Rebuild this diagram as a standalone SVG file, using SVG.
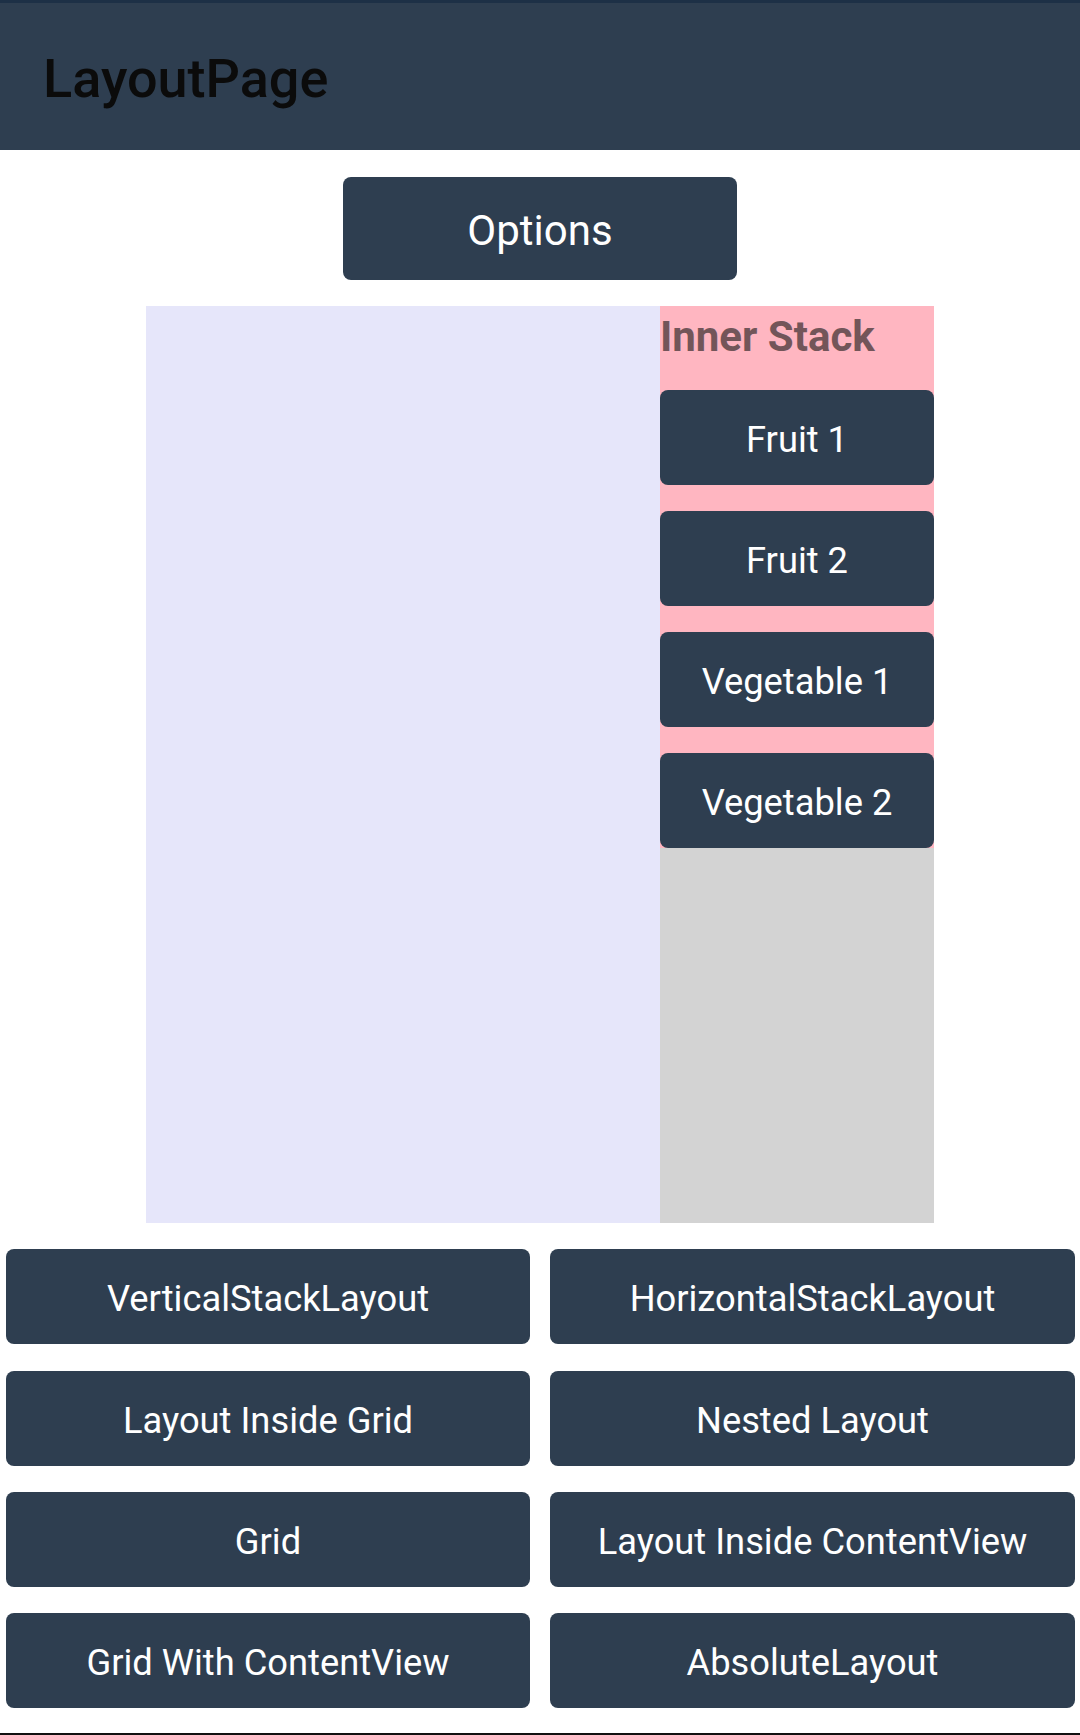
<svg xmlns="http://www.w3.org/2000/svg" width="1080" height="1735" viewBox="0 0 1080 1735">
<style>
.btn{fill:#2e3e50}
.bt{font-family:Roboto,"Liberation Sans",sans-serif;font-size:36.3px;fill:#ffffff;text-anchor:middle}
</style>
<rect x="0" y="0" width="1080" height="1735" fill="#ffffff"/>
<g id="header">
<rect x="0" y="0" width="1080" height="150" fill="#2e3e50"/>
<rect x="0" y="0" width="1080" height="3" fill="#1d3046"/>
<text x="43" y="97" font-family="Roboto,'Liberation Sans',sans-serif" font-size="54" font-weight="500" fill="#0b0b0b">LayoutPage</text>
</g>
<g id="options">
<rect class="btn" x="343" y="177" width="394" height="103" rx="8"/>
<text class="bt" x="540" y="245" style="font-size:42px">Options</text>
</g>
<g id="outer-stack">
<rect x="146" y="306" width="514" height="917" fill="#e6e6fa"/>
<rect x="660" y="848" width="274" height="375" fill="#d3d3d3"/>
</g>
<g id="inner-stack">
<rect x="660" y="306" width="274" height="542" fill="#ffb6c1"/>
<text x="660" y="351" font-family="Roboto,'Liberation Sans',sans-serif" font-size="42" font-weight="700" fill="#735559">Inner Stack</text>
</g>
<g id="fruit1"><rect class="btn" x="660" y="390" width="274" height="95" rx="8"/><text class="bt" x="797" y="452">Fruit 1</text></g>
<g id="fruit2"><rect class="btn" x="660" y="511" width="274" height="95" rx="8"/><text class="bt" x="797" y="573">Fruit 2</text></g>
<g id="vegetable1"><rect class="btn" x="660" y="632" width="274" height="95" rx="8"/><text class="bt" x="797" y="694">Vegetable 1</text></g>
<g id="vegetable2"><rect class="btn" x="660" y="753" width="274" height="95" rx="8"/><text class="bt" x="797" y="815">Vegetable 2</text></g>
<g id="btn-vertical"><rect class="btn" x="6" y="1249" width="524" height="95" rx="8"/><text class="bt" x="268" y="1311">VerticalStackLayout</text></g>
<g id="btn-horizontal"><rect class="btn" x="550" y="1249" width="525" height="95" rx="8"/><text class="bt" x="812.5" y="1311">HorizontalStackLayout</text></g>
<g id="btn-layout-grid"><rect class="btn" x="6" y="1371" width="524" height="95" rx="8"/><text class="bt" x="268" y="1433">Layout Inside Grid</text></g>
<g id="btn-nested"><rect class="btn" x="550" y="1371" width="525" height="95" rx="8"/><text class="bt" x="812.5" y="1433">Nested Layout</text></g>
<g id="btn-grid"><rect class="btn" x="6" y="1492" width="524" height="95" rx="8"/><text class="bt" x="268" y="1554">Grid</text></g>
<g id="btn-layout-cv"><rect class="btn" x="550" y="1492" width="525" height="95" rx="8"/><text class="bt" x="812.5" y="1554">Layout Inside ContentView</text></g>
<g id="btn-grid-cv"><rect class="btn" x="6" y="1613" width="524" height="95" rx="8"/><text class="bt" x="268" y="1675">Grid With ContentView</text></g>
<g id="btn-absolute"><rect class="btn" x="550" y="1613" width="525" height="95" rx="8"/><text class="bt" x="812.5" y="1675">AbsoluteLayout</text></g>
<g id="connectors"></g>
<rect x="0" y="1733" width="1080" height="2" fill="#111111"/>
</svg>
